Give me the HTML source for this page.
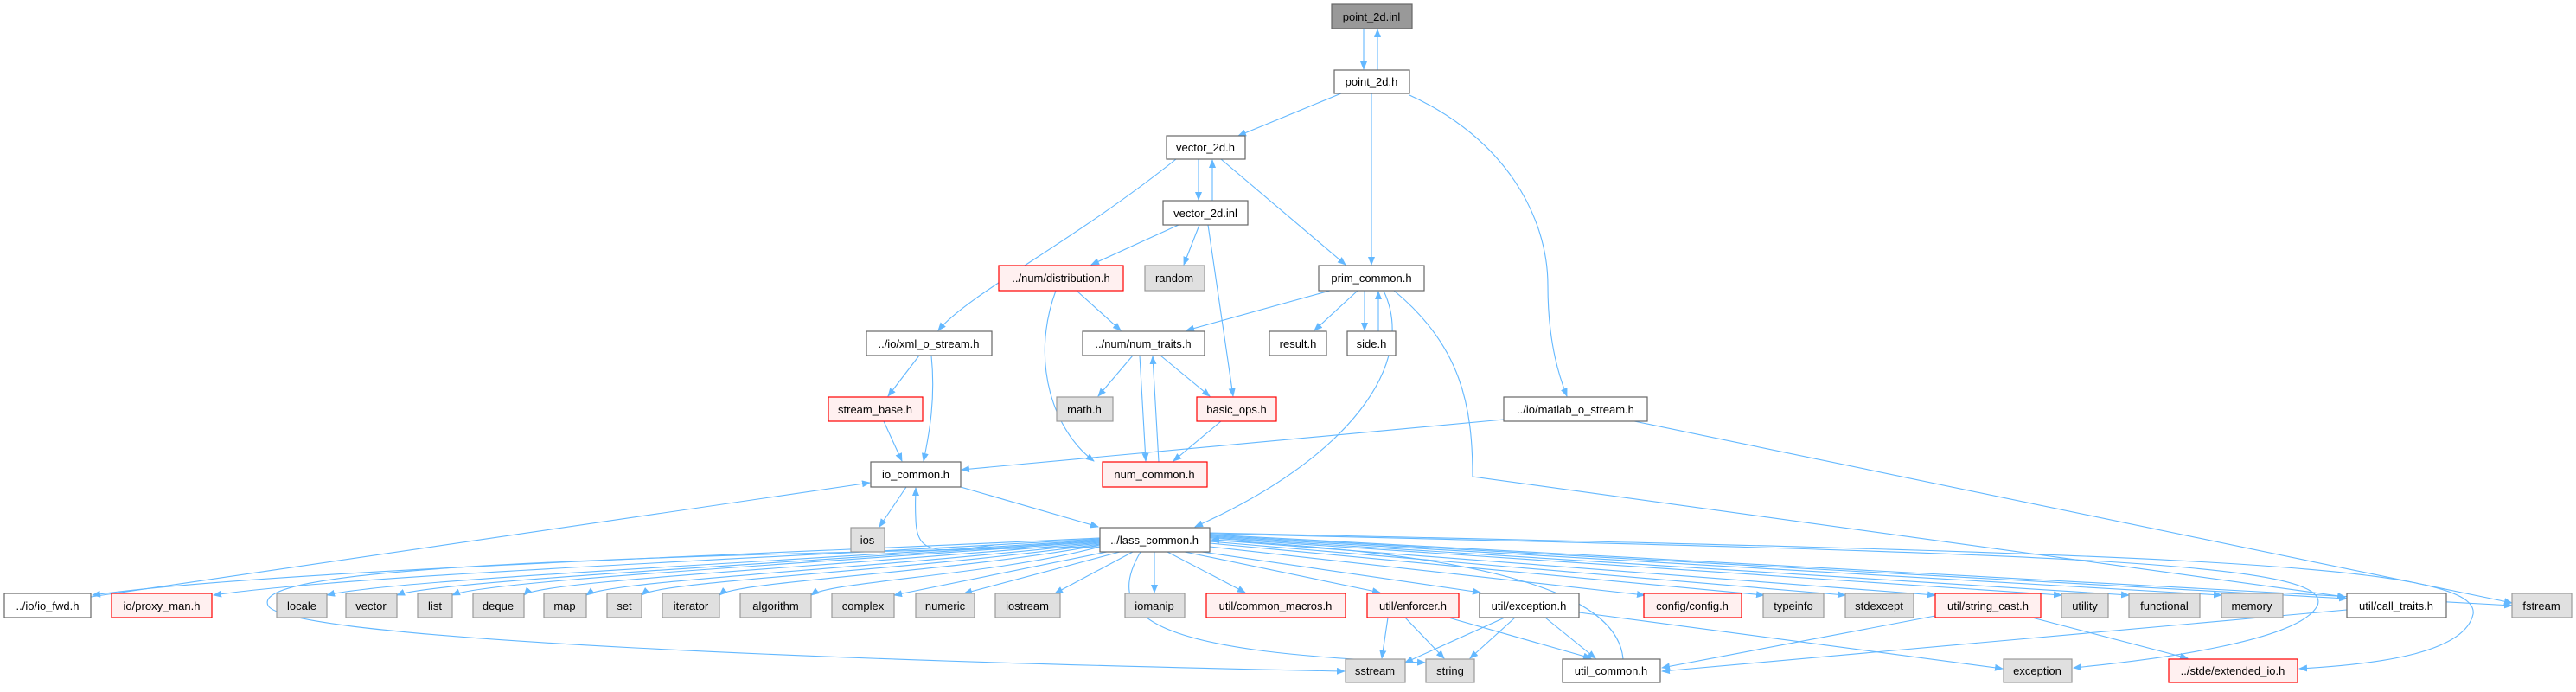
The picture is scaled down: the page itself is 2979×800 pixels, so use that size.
<!DOCTYPE html>
<html><head><meta charset="utf-8"><style>
html,body{margin:0;padding:0;background:#fff}
svg text{font-family:"Liberation Sans",sans-serif;font-size:13px;fill:#000;text-anchor:middle}
.w{fill:#fff;stroke:#666;stroke-width:1.2}
.g{fill:#e0e0e0;stroke:#999;stroke-width:1.2}
.r{fill:#fff0f0;stroke:#f00;stroke-width:1.2}
.k{fill:#999;stroke:#666;stroke-width:1.2}
.e path{fill:none;stroke:#63b8ff;stroke-width:1.1;marker-end:url(#a)}
</style></head><body>
<svg width="2979" height="795" viewBox="0 0 2979 795" xmlns="http://www.w3.org/2000/svg">
<defs><marker id="a" markerWidth="10" markerHeight="8" refX="9" refY="4" orient="auto" markerUnits="userSpaceOnUse"><path d="M0,0 L10,4 L0,8 z" fill="#63b8ff"/></marker></defs>
<g class="e">
<path d="M1577,33 L1577,80"/><path d="M1593,81 L1593,34"/>
<path d="M1551,108 L1432,157"/>
<path d="M1586,108 L1586,306"/>
<path d="M1630,110 C1740,160 1790,250 1790,330 C1790,400 1805,440 1812,458"/>
<path d="M1386,184 L1386,231"/><path d="M1402,232 L1402,185"/>
<path d="M1360,184 C1240,280 1120,340 1085,382"/>
<path d="M1412,184 L1556,306"/>
<path d="M1363,260 L1262,306"/>
<path d="M1387,260 L1369,306"/>
<path d="M1397,260 L1426,458"/>
<path d="M1245,336 L1296,382"/>
<path d="M1221,336 C1190,420 1220,500 1265,533"/>
<path d="M1538,336 L1372,382"/>
<path d="M1570,336 L1520,382"/>
<path d="M1578,336 L1578,382"/><path d="M1594,383 L1594,337"/>
<path d="M1600,336 C1640,420 1560,530 1382,609"/>
<path d="M1612,336 C1690,400 1703,470 1703,551 L2712,690"/>
<path d="M1063,411 L1027,458"/>
<path d="M1077,411 C1082,460 1075,500 1068,533"/>
<path d="M1022,487 L1043,533"/>
<path d="M1310,411 L1270,458"/>
<path d="M1318,411 L1325,533"/><path d="M1340,534 L1333,412"/>
<path d="M1342,411 L1399,458"/>
<path d="M1412,487 L1357,533"/>
<path d="M1739,485 L1112,543"/>
<path d="M1890,487 L2905,697"/>
<path d="M1048,563 L1017,609"/>
<path d="M1111,563 L1270,609"/>
<path d="M105,690 L1006,558"/>
<path d="M1150,630 C1080,640 1060,640 1059,600 C1058,580 1059,575 1059,564"/>
<path d="M1272,622 C900,640 300,660 107,688"/>
<path d="M1272,623 C900,645 400,665 247,688"/>
<path d="M1272,624 C900,650 450,670 378,688"/>
<path d="M1272,625 C900,652 500,672 459,688"/>
<path d="M1272,626 C900,654 560,672 523,688"/>
<path d="M1272,627 C950,656 620,672 606,688"/>
<path d="M1272,628 C1000,658 700,672 678,688"/>
<path d="M1272,629 C1050,660 760,672 742,688"/>
<path d="M1272,630 C1100,662 850,672 832,688"/>
<path d="M1272,632 C1150,665 960,672 938,688"/>
<path d="M1280,638 L1034,688"/>
<path d="M1295,638 L1115,686"/>
<path d="M1310,638 L1220,686"/>
<path d="M1335,638 L1335,685"/>
<path d="M1350,638 L1440,685"/>
<path d="M1370,638 L1596,685"/>
<path d="M1390,638 L1712,685"/>
<path d="M1399,632 L1902,688"/>
<path d="M1399,628 L2040,688"/>
<path d="M1399,626 L2134,688"/>
<path d="M1399,624 L2238,688"/>
<path d="M1399,622 L2384,688"/>
<path d="M1399,621 L2462,688"/>
<path d="M1399,620 L2569,688"/>
<path d="M1399,619 L2714,692"/>
<path d="M1399,618 L2905,700"/>
<path d="M1319,638 C1270,720 1350,755 1648,766"/>
<path d="M1272,632 C600,645 290,660 310,700 C330,740 1000,765 1555,776"/>
<path d="M1877,762 C1870,680 1700,640 1401,624"/>
<path d="M1399,617 C2400,640 2700,650 2680,700 C2660,740 2500,762 2398,772"/>
<path d="M1399,616 C2500,640 2870,650 2860,710 C2850,755 2750,768 2659,773"/>
<path d="M1605,714 L1598,761"/>
<path d="M1625,714 L1670,761"/>
<path d="M1675,714 L1840,761"/>
<path d="M1740,714 L1625,766"/>
<path d="M1752,714 L1700,761"/>
<path d="M1787,714 L1845,761"/>
<path d="M1826,708 L2316,773"/>
<path d="M2238,712 L1922,772"/>
<path d="M2350,714 L2530,761"/>
<path d="M2714,705 L1922,776"/>
</g>
<g>
<rect class="k" x="1540" y="5" width="93" height="28"/><text x="1586" y="24">point_2d.inl</text>
<rect class="w" x="1543" y="81" width="87" height="27"/><text x="1586" y="99">point_2d.h</text>
<rect class="w" x="1349" y="157" width="91" height="27"/><text x="1394" y="175">vector_2d.h</text>
<rect class="w" x="1345" y="232" width="98" height="28"/><text x="1394" y="251">vector_2d.inl</text>
<rect class="r" x="1155" y="307" width="144" height="29"/><text x="1227" y="326">../num/distribution.h</text>
<rect class="g" x="1324" y="307" width="69" height="29"/><text x="1358" y="326">random</text>
<rect class="w" x="1525" y="307" width="122" height="29"/><text x="1586" y="326">prim_common.h</text>
<rect class="w" x="1002" y="383" width="145" height="28"/><text x="1074" y="402">../io/xml_o_stream.h</text>
<rect class="w" x="1252" y="383" width="141" height="28"/><text x="1322" y="402">../num/num_traits.h</text>
<rect class="w" x="1468" y="383" width="66" height="28"/><text x="1501" y="402">result.h</text>
<rect class="w" x="1558" y="383" width="56" height="28"/><text x="1586" y="402">side.h</text>
<rect class="r" x="958" y="459" width="109" height="28"/><text x="1012" y="478">stream_base.h</text>
<rect class="g" x="1222" y="459" width="65" height="28"/><text x="1254" y="478">math.h</text>
<rect class="r" x="1384" y="459" width="92" height="28"/><text x="1430" y="478">basic_ops.h</text>
<rect class="w" x="1739" y="459" width="166" height="28"/><text x="1822" y="478">../io/matlab_o_stream.h</text>
<rect class="w" x="1007" y="534" width="104" height="29"/><text x="1059" y="553">io_common.h</text>
<rect class="r" x="1275" y="534" width="121" height="29"/><text x="1335" y="553">num_common.h</text>
<rect class="g" x="984" y="610" width="39" height="28"/><text x="1003" y="629">ios</text>
<rect class="w" x="1272" y="610" width="127" height="28"/><text x="1335" y="629">../lass_common.h</text>
<rect class="w" x="5" y="686" width="100" height="28"/><text x="55" y="705">../io/io_fwd.h</text>
<rect class="r" x="129" y="686" width="116" height="28"/><text x="187" y="705">io/proxy_man.h</text>
<rect class="g" x="320" y="686" width="58" height="28"/><text x="349" y="705">locale</text>
<rect class="g" x="400" y="686" width="59" height="28"/><text x="429" y="705">vector</text>
<rect class="g" x="483" y="686" width="40" height="28"/><text x="503" y="705">list</text>
<rect class="g" x="547" y="686" width="59" height="28"/><text x="576" y="705">deque</text>
<rect class="g" x="629" y="686" width="49" height="28"/><text x="653" y="705">map</text>
<rect class="g" x="702" y="686" width="40" height="28"/><text x="722" y="705">set</text>
<rect class="g" x="766" y="686" width="66" height="28"/><text x="799" y="705">iterator</text>
<rect class="g" x="856" y="686" width="82" height="28"/><text x="897" y="705">algorithm</text>
<rect class="g" x="962" y="686" width="72" height="28"/><text x="998" y="705">complex</text>
<rect class="g" x="1059" y="686" width="68" height="28"/><text x="1093" y="705">numeric</text>
<rect class="g" x="1151" y="686" width="75" height="28"/><text x="1188" y="705">iostream</text>
<rect class="g" x="1301" y="686" width="69" height="28"/><text x="1335" y="705">iomanip</text>
<rect class="r" x="1395" y="686" width="161" height="28"/><text x="1475" y="705">util/common_macros.h</text>
<rect class="r" x="1581" y="686" width="106" height="28"/><text x="1634" y="705">util/enforcer.h</text>
<rect class="w" x="1711" y="686" width="115" height="28"/><text x="1768" y="705">util/exception.h</text>
<rect class="r" x="1901" y="686" width="113" height="28"/><text x="1957" y="705">config/config.h</text>
<rect class="g" x="2039" y="686" width="70" height="28"/><text x="2074" y="705">typeinfo</text>
<rect class="g" x="2134" y="686" width="79" height="28"/><text x="2173" y="705">stdexcept</text>
<rect class="r" x="2238" y="686" width="122" height="28"/><text x="2299" y="705">util/string_cast.h</text>
<rect class="g" x="2384" y="686" width="54" height="28"/><text x="2411" y="705">utility</text>
<rect class="g" x="2462" y="686" width="82" height="28"/><text x="2503" y="705">functional</text>
<rect class="g" x="2569" y="686" width="71" height="28"/><text x="2604" y="705">memory</text>
<rect class="w" x="2714" y="686" width="115" height="28"/><text x="2771" y="705">util/call_traits.h</text>
<rect class="g" x="2905" y="686" width="69" height="28"/><text x="2939" y="705">fstream</text>
<rect class="g" x="1556" y="762" width="69" height="27"/><text x="1590" y="780">sstream</text>
<rect class="g" x="1649" y="762" width="56" height="27"/><text x="1677" y="780">string</text>
<rect class="w" x="1807" y="762" width="113" height="27"/><text x="1863" y="780">util_common.h</text>
<rect class="g" x="2317" y="762" width="79" height="27"/><text x="2356" y="780">exception</text>
<rect class="r" x="2508" y="762" width="149" height="27"/><text x="2582" y="780">../stde/extended_io.h</text>
</g>
</svg>
</body></html>
